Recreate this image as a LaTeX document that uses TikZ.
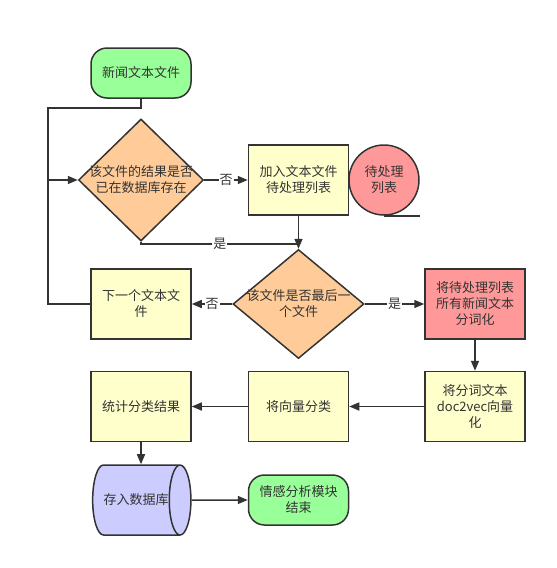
\documentclass[tikz,border=0pt]{standalone}
\usepackage{fontspec}
\newfontfamily\cjk{Noto Sans CJK SC}
\usepackage{tikz}
\usetikzlibrary{shapes,arrows.meta,positioning,calc}
\definecolor{linegray}{RGB}{51,51,51}
\definecolor{termgreen}{RGB}{153,255,153}
\definecolor{decisionorange}{RGB}{255,204,153}
\definecolor{processyellow}{RGB}{255,255,204}
\definecolor{alertred}{RGB}{255,153,153}
\definecolor{storeblue}{RGB}{204,204,255}

\begin{document}
\begin{tikzpicture}[
    x=1pt, y=-1pt,
    font=\cjk\fontsize{13}{16}\selectfont, text=linegray,
    terminal/.style={rectangle, draw=linegray, line width=1.5pt, fill=termgreen, rounded corners=16pt, minimum width=100pt, minimum height=50pt, inner sep=0pt, align=center},
    process/.style={rectangle, draw=linegray, line width=1.5pt, fill=#1, minimum width=100pt, minimum height=70pt, inner sep=0pt, align=center},
    process/.default=processyellow,
    decision/.style={diamond, draw=linegray, line width=1.5pt, fill=decisionorange, inner sep=0pt},
    queuebox/.style={circle, draw=linegray, line width=1.5pt, fill=alertred, minimum size=70pt, inner sep=0pt, align=center},
    store/.style={cylinder, draw=linegray, line width=1.5pt, fill=storeblue, shape aspect=1.8, minimum width=70pt, minimum height=98pt, inner sep=0pt},
    link/.style={line width=1.5pt, draw=linegray},
    arrow/.style={-{Triangle[length=10pt,width=8pt]}, line width=1.5pt, draw=linegray},
    tag/.style={fill=white, inner sep=1pt}
]
\useasboundingbox (0,0) rectangle (557,568);

% Start and first check
\node[terminal] (start) at (141,73) {新闻文本文件};
\node[decision, minimum width=125pt, minimum height=122pt,
      label={[align=center]center:该文件的结果是否\\已在数据库存在}] (known) at (141,180) {};

% Pending list
\node[process] (queueadd) at (298.5,180) {加入文本文件\\待处理列表};
\node[queuebox] (queue) at (384,180) {待处理\\列表};

% Second check and its branches
\node[decision, minimum width=131pt, minimum height=109pt,
      label={[align=center]center:该文件是否最后一\\个文件}] (last) at (298.5,304) {};
\node[process] (next) at (141,304) {下一个文本文\\件};
\node[process=alertred] (segment) at (475,304) {将待处理列表\\所有新闻文本\\分词化};

% Vectors and classification
\node[process] (vector) at (475,406.5) {将分词文本\\doc2vec向量\\化};
\node[process] (classify) at (298.5,406.5) {将向量分类};
\node[process] (count) at (141,406.5) {统计分类结果};

% Storage and end
\node[store] (db) at (136,500) {存入数据库};
\node[terminal] (finish) at (298.5,500) {情感分析模块\\结束};

% Bend points
\coordinate (looptop) at (48,108);
\coordinate (loopin) at (48,180);
\coordinate (yesjoin) at (298.5,244);

% Connectors
\draw[link] (start.south) |- (looptop) -- (loopin);
\draw[arrow] (loopin) -- (known.west);
\draw[link] (next.west) -| (loopin);
\draw[arrow] (known.east) -- node[tag] {否} (queueadd.west);
\draw[link] (queue.south) -- (queue.south -| queue.east);
\draw[link] (known.south) |- node[tag, pos=0.75] {是} (yesjoin);
\draw[arrow] (queueadd.south) -- (last.north);
\draw[arrow] (last.west) -- node[tag] {否} (next.east);
\draw[arrow] (last.east) -- node[tag] {是} (segment.west);
\draw[arrow] (segment.south) -- (vector.north);
\draw[arrow] (vector.west) -- (classify.east);
\draw[arrow] (classify.west) -- (count.east);
\draw[arrow] (count.south) -- (count.south |- db.north);
\draw[arrow] (db.east) -- (finish.west);

\end{tikzpicture}
\end{document}
